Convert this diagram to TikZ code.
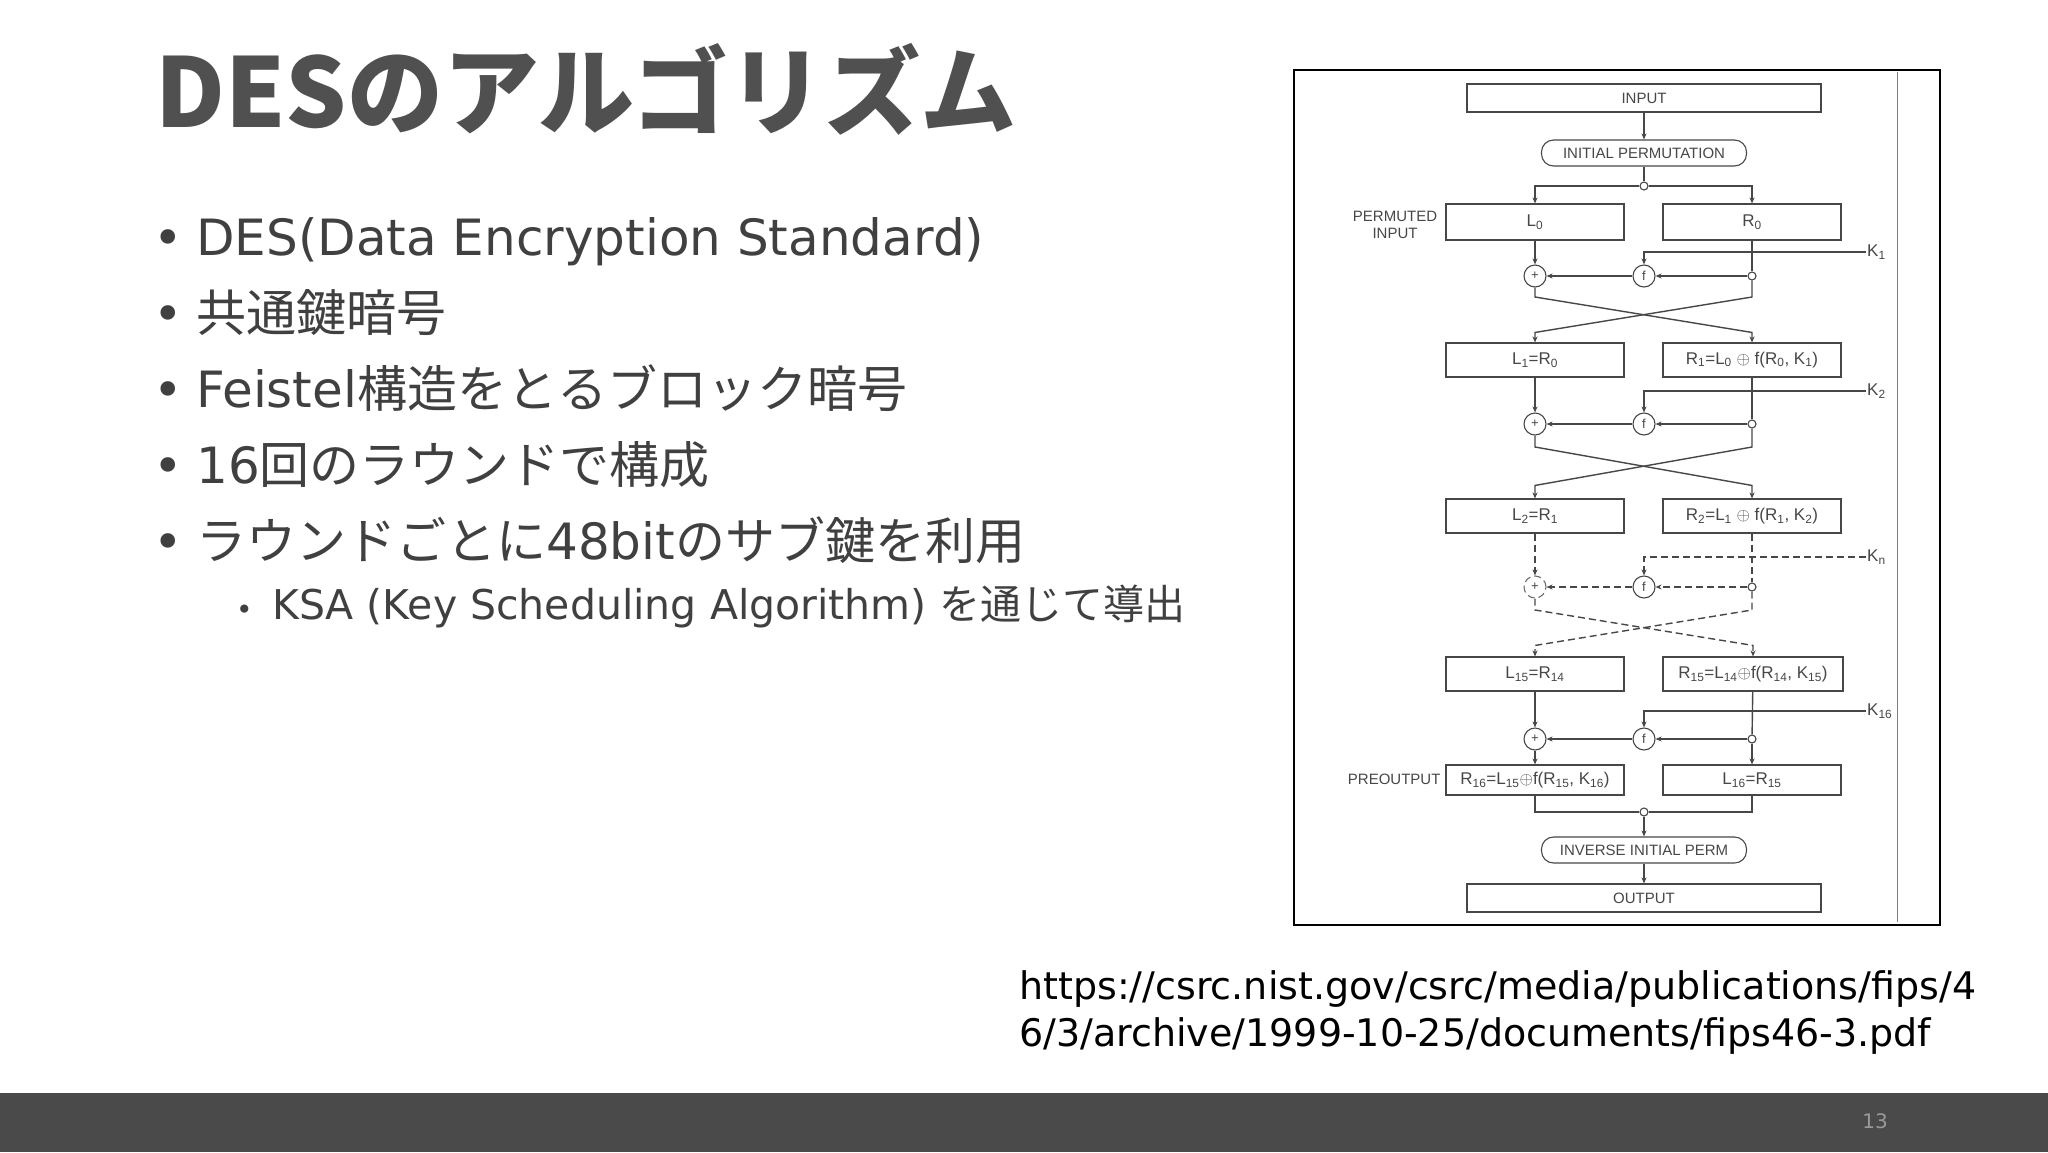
\documentclass[tikz,border=0pt]{standalone}
\usepackage{fontspec}
\setmainfont{DejaVu Sans}
\newfontfamily\jp{Noto Sans CJK JP}
\newfontfamily\lib{Liberation Sans}
\usetikzlibrary{arrows.meta,calc}
\definecolor{dg}{HTML}{474747}
\definecolor{tx}{HTML}{404040}
\definecolor{bar}{HTML}{4A4A4A}
\newcommand{\dfont}{\lib\fontsize{15}{17}\selectfont}
\newcommand{\efont}{\lib\fontsize{17}{19}\selectfont}
\newcommand{\sub}[1]{\textsubscript{#1}}
\begin{document}
\begin{tikzpicture}[x=1pt,y=-1pt,
  dl/.style={draw=dg,line width=1.4pt},
  arr/.style={dl,-{Stealth[length=6pt,width=5pt]}},
  bx/.style={draw=dg,line width=1.1pt,minimum width=178,minimum height=34,inner sep=0,font=\efont,text=dg},
  wb/.style={draw=dg,line width=1.1pt,minimum width=354,minimum height=28,inner sep=0,font=\dfont,text=dg},
  rb/.style={draw=dg,line width=1.1pt,rounded corners=12pt,minimum width=205,minimum height=26,inner sep=0,font=\dfont,text=dg},
  op/.style={circle,draw=dg,line width=1.1pt,fill=white,minimum size=22,inner sep=0,font=\lib\fontsize{13}{13}\selectfont,text=dg},
  jn/.style={circle,draw=dg,line width=1.1pt,fill=white,minimum size=8,inner sep=0},
  kl/.style={anchor=west,inner sep=1,font=\efont,text=dg},
  lab/.style={font=\dfont,text=dg,align=center},
  dsh/.style={dash pattern=on 7pt off 4pt},
  bul/.style={anchor=base west,inner sep=0,text=tx,font=\fontsize{50}{54}\selectfont}]
\fill[white] (0,0) rectangle (2048,1152);
\fill[bar] (0,1093) rectangle (2048,1152);
\node[text=gray!80,font=\fontsize{20}{20}\selectfont] (pg) at (1875,1121) {13};
% title
\node[anchor=base west,inner sep=0,text=dg!95,font=\jp\bfseries\fontsize{96}{100}\selectfont] (title) at (155,127) {DESのアルゴリズム};
% bullets
\node[bul] (b1d) at (153,255) {•}; \node[bul] (b1) at (196,255) {DES(Data Encryption Standard)};
\node[bul] (b2d) at (153,331) {•}; \node[bul] (b2) at (196,331) {\jp 共通鍵暗号};
\node[bul] (b3d) at (153,407) {•}; \node[bul] (b3) at (196,407) {Feistel{\jp 構造をとるブロック暗号}};
\node[bul] (b4d) at (153,483) {•}; \node[bul] (b4) at (196,483) {16{\jp 回のラウンドで構成}};
\node[bul] (b5d) at (153,559) {•}; \node[bul] (b5) at (196,559) {{\jp ラウンドごとに}48bit{\jp のサブ鍵を利用}};
\node[bul,font=\fontsize{28}{30}\selectfont] (b6d) at (236,619) {•};
\node[bul,font=\fontsize{41}{44}\selectfont] (b6) at (272,619) {KSA (Key Scheduling Algorithm) {\jp を通じて導出}};
% url
\node[anchor=base west,inner sep=0,text=black,font=\fontsize{38}{46}\selectfont] (url1) at (1019,999) {https://csrc.nist.gov/csrc/media/publications/fips/4};
\node[anchor=base west,inner sep=0,text=black,font=\fontsize{38}{46}\selectfont] (url2) at (1019,1046) {6/3/archive/1999-10-25/documents/fips46-3.pdf};
% diagram frame
\draw[black,line width=1.3pt] (1294,70) rectangle (1940,925);
\draw[gray,line width=1pt] (1897,72) -- (1897,922);
% top
\node[wb] (in) at (1644,98) {INPUT};
\node[rb] (ip) at (1644,153) {INITIAL PERMUTATION};
\node[jn] (ji) at (1644,186) {};
\node[bx,minimum height=36] (L0) at (1535,222) {L\sub{0}};
\node[bx,minimum height=36] (R0) at (1752,222) {R\sub{0}};
\node[lab] (pin) at (1395,225) {PERMUTED\\INPUT};
\draw[arr] (in) -- (ip);
\draw[dl] (ip) -- (ji);
\draw[arr] (ji) -| (L0.north);
\draw[arr] (ji) -| (R0.north);
% round 1
\node[op] (p1) at (1535,276) {+};
\node[op] (f1) at (1644,276) {f};
\node[jn] (j1) at (1752,276) {};
\node[kl] (k1) at (1866,252) {K\sub{1}};
\node[bx] (L1) at (1535,360) {L\sub{1}=R\sub{0}};
\node[bx] (R1) at (1752,360) {R\sub{1}=L\sub{0} $\oplus$ f(R\sub{0}, K\sub{1})};
\draw[arr] (L0) -- (p1);
\draw[dl] (R0) -- (j1);
\draw[arr] (j1) -- (f1);
\draw[arr] (f1) -- (p1);
\draw[arr] (k1.west) -| (f1.north);
\draw[arr] (j1) -- ($(j1)+(0,21)$) -- ($(L1.north)+(0,-10)$) -- (L1.north);
\draw[arr] (p1) -- ($(p1)+(0,21)$) -- ($(R1.north)+(0,-10)$) -- (R1.north);
% round 2
\node[op] (p2) at (1535,424) {+};
\node[op] (f2) at (1644,424) {f};
\node[jn] (j2) at (1752,424) {};
\node[kl] (k2) at (1866,391) {K\sub{2}};
\node[bx] (L2) at (1535,516) {L\sub{2}=R\sub{1}};
\node[bx] (R2) at (1752,516) {R\sub{2}=L\sub{1} $\oplus$ f(R\sub{1}, K\sub{2})};
\draw[arr] (L1) -- (p2);
\draw[dl] (R1) -- (j2);
\draw[arr] (j2) -- (f2);
\draw[arr] (f2) -- (p2);
\draw[arr] (k2.west) -| (f2.north);
\draw[arr] (j2) -- ($(j2)+(0,23)$) -- ($(L2.north)+(0,-13)$) -- (L2.north);
\draw[arr] (p2) -- ($(p2)+(0,23)$) -- ($(R2.north)+(0,-13)$) -- (R2.north);
% round n (dashed)
\node[op,dsh,draw=dg!80] (p3) at (1535,587) {+};
\node[op] (f3) at (1644,587) {f};
\node[jn] (j3) at (1752,587) {};
\node[kl] (k3) at (1866,557) {K\sub{n}};
\node[bx] (L15) at (1535,674) {L\sub{15}=R\sub{14}};
\node[bx,minimum width=180] (R15) at (1753,674) {R\sub{15}=L\sub{14}$\oplus$f(R\sub{14}, K\sub{15})};
\draw[arr,dsh] (L2) -- (p3);
\draw[dl,dsh] (R2) -- (j3);
\draw[arr,dsh] (j3) -- (f3);
\draw[arr,dsh] (f3) -- (p3);
\draw[arr,dsh] (k3.west) -| (f3.north);
\draw[arr,dsh] (j3) -- ($(j3)+(0,23)$) -- ($(L15.north)+(0,-11)$) -- (L15.north);
\draw[arr,dsh] (p3) -- ($(p3)+(0,23)$) -- ($(R15.north)+(0,-11)$) -- (R15.north);
% round 16
\node[op] (p4) at (1535,739) {+};
\node[op] (f4) at (1644,739) {f};
\node[jn] (j4) at (1752,739) {};
\node[kl] (k4) at (1866,711) {K\sub{16}};
\node[bx,minimum height=30] (P1) at (1535,780) {R\sub{16}=L\sub{15}$\oplus$f(R\sub{15}, K\sub{16})};
\node[bx,minimum height=30] (P2) at (1752,780) {L\sub{16}=R\sub{15}};
\node[lab,anchor=east] (pout) at (1444,779) {PREOUTPUT};
\draw[arr] (L15) -- (p4);
\draw[dl] (R15) -- (j4);
\draw[arr] (j4) -- (f4);
\draw[arr] (f4) -- (p4);
\draw[arr] (k4.west) -| (f4.north);
\draw[arr] (p4) -- (P1);
\draw[arr] (j4) -- (P2);
% bottom
\node[jn] (jo) at (1644,812) {};
\node[rb] (iip) at (1644,850) {INVERSE INITIAL PERM};
\node[wb] (out) at (1644,898) {OUTPUT};
\draw[dl] (P1) |- (jo);
\draw[dl] (P2) |- (jo);
\draw[arr] (jo) -- (iip);
\draw[arr] (iip) -- (out);
\end{tikzpicture}
\end{document}
